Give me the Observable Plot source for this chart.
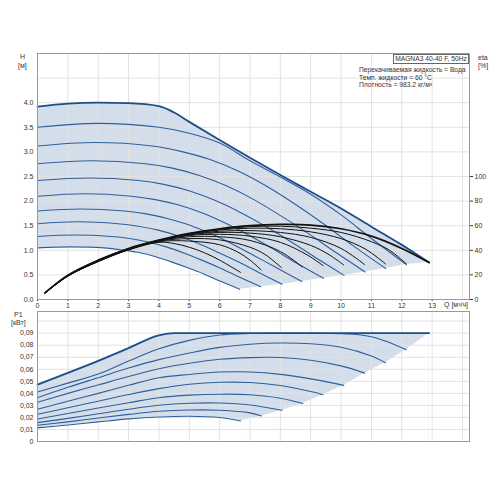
<!DOCTYPE html>
<html><head><meta charset="utf-8">
<script src="https://cdn.jsdelivr.net/npm/d3@7"></script>
<script src="https://cdn.jsdelivr.net/npm/@observablehq/plot@0.6"></script>
<style>
body{margin:0;background:#fff;font-family:"Liberation Sans",Arial,sans-serif;}
#wrap{position:relative;width:500px;height:500px;overflow:hidden;background:#fff;}
#chartTop,#chartBot{position:absolute;left:0;}
#chartTop{top:0;}#chartBot{top:308px;}
.lbl{position:absolute;font-size:7px;color:#333;line-height:8px;white-space:nowrap;z-index:5;}
.info{font-size:6.7px;}
#box{position:absolute;left:393px;top:54px;width:74px;height:8px;border:1px solid #666;font-size:6.7px;line-height:8px;text-align:center;color:#333;background:#fff;z-index:5;white-space:nowrap;}
</style></head><body>
<div id="wrap">
<div id="chartTop"></div><div id="chartBot"></div>
<div class="lbl" style="left:20px;top:53px">H</div>
<div class="lbl" style="left:18px;top:62px">[м]</div>
<div class="lbl" style="left:478px;top:54px">eta</div>
<div class="lbl" style="left:478px;top:62px">[%]</div>
<div id="box">MAGNA3 40-40 F, 50Hz</div>
<div class="lbl info" style="left:359px;top:66px">Перекачиваемая жидкость = Вода</div>
<div class="lbl info" style="left:359px;top:73.5px">Темп. жидкости = 60 °C</div>
<div class="lbl info" style="left:359px;top:81px">Плотность = 983.2 кг/м³</div>
<div class="lbl" style="left:444px;top:301px">Q [м³/ч]</div>
<div class="lbl" style="left:14px;top:311px">P1</div>
<div class="lbl" style="left:11px;top:319px">[кВт]</div>
</div>
<script>
// ---- tick values ----
const X_TICKS = [0,1,2,3,4,5,6,7,8,9,10,11,12,13];
const X_GRID = [0,1,2,3,4,5,6,7,8,9,10,11,12,13,14];
const H_TICKS = [0,0.5,1,1.5,2,2.5,3,3.5,4];
const H_GRID = [0.5,1,1.5,2,2.5,3,3.5,4,4.5,5];
const ETA_TICKS = [0,20,40,60,80,100];
const P_TICKS = [0,0.01,0.02,0.03,0.04,0.05,0.06,0.07,0.08,0.09];
const P_GRID = [0.01,0.02,0.03,0.04,0.05,0.06,0.07,0.08,0.09,0.10];

// ---- head curves: Q [m3/h] and H [m] (max curve first) ----
const HEAD_Q = [
 [0,1,2,3,4,4.5,5,6,7,8,9,10,11,12,12.9],
 [0,2,4,5,6,7,8,9,10,11,12.15],
 [0,1.89,3.78,4.72,5.66,6.61,7.55,8.50,9.44,10.38,11.47],
 [0,1.78,3.55,4.44,5.33,6.22,7.10,7.99,8.88,9.77,10.79],
 [0,1.66,3.32,4.16,4.99,5.82,6.65,7.48,8.31,9.14,10.10],
 [0,1.55,3.10,3.88,4.65,5.43,6.20,6.98,7.75,8.53,9.42],
 [0,1.43,2.87,3.59,4.30,5.02,5.74,6.45,7.17,7.89,8.71],
 [0,1.33,2.65,3.32,3.98,4.64,5.30,5.97,6.63,7.29,8.06],
 [0,1.21,2.42,3.03,3.63,4.24,4.84,5.45,6.05,6.66,7.35],
 [0,1.10,2.19,2.74,3.29,3.84,4.38,4.93,5.48,6.03,6.66]
];
const HEAD_H = [
 [3.92,3.98,4.00,3.99,3.93,3.80,3.61,3.24,2.88,2.53,2.19,1.85,1.48,1.11,0.75],
 [3.50,3.58,3.50,3.38,3.18,2.82,2.49,2.14,1.72,1.24,0.71],
 [3.12,3.19,3.12,3.01,2.85,2.61,2.30,1.93,1.53,1.10,0.63],
 [2.76,2.82,2.76,2.67,2.52,2.31,2.04,1.71,1.36,0.98,0.56],
 [2.42,2.47,2.42,2.34,2.21,2.02,1.78,1.50,1.19,0.86,0.49],
 [2.10,2.15,2.10,2.03,1.92,1.76,1.55,1.30,1.03,0.74,0.43],
 [1.80,1.84,1.80,1.74,1.64,1.51,1.33,1.12,0.88,0.64,0.365],
 [1.54,1.58,1.54,1.49,1.41,1.29,1.14,0.95,0.76,0.55,0.31],
 [1.28,1.31,1.28,1.24,1.17,1.07,0.94,0.79,0.63,0.45,0.26],
 [1.05,1.07,1.05,1.01,0.96,0.88,0.77,0.65,0.52,0.37,0.21]
];

// ---- efficiency curves: Q and eta [%] ----
const ETA_Q = [
 [0.25,1,2,3,4,5,6,7,8,9,10,11,12,12.9],
 [0.25,1,2,3,4,5,6,7,8,9,10,11,11.6,12.15],
 [0.25,1,2,3,4,5,6,7,8,9,10,10.8,11.46],
 [0.25,1,2,3,4,5,6,7,8,9,10,10.77],
 [0.25,1,2,3,4,5,6,7,8,9,9.6,10.09],
 [0.25,1,2,3,4,5,6,7,8,8.9,9.41],
 [0.25,1,2,3,4,5,6,7,8,8.72],
 [0.25,1,2,3,4,5,6,7,7.5,8.03],
 [0.25,1,2,3,4,5,6,6.6,7,7.37],
 [0.25,1,2,3,4,4.5,5,5.5,6,6.69]
];
const ETA_V = [
 [5.5,19.8,32.0,41.5,48.3,53.8,57.5,60.0,61.0,60.5,57.5,51.5,41.5,30],
 [5.5,19.7,31.9,41.4,48.2,53.5,57.0,59.2,59.6,58.0,54.5,47.0,40.0,29],
 [5.5,19.6,31.8,41.3,48.1,53.2,56.5,58.0,57.5,55.0,49.5,41.0,29],
 [5.4,19.5,31.6,41.1,48.0,52.9,55.5,56.0,54.5,50.5,41.5,28.5],
 [5.4,19.4,31.5,41.0,47.9,52.5,54.5,54.0,51.0,44.0,36.5,28],
 [5.4,19.3,31.4,40.9,47.8,52.0,53.0,51.5,46.5,36.0,27.5],
 [5.4,19.2,31.2,40.8,47.6,51.0,51.0,48.0,39.0,26.5],
 [5.3,19.1,31.0,40.6,47.4,49.5,48.5,42.5,36.5,26],
 [5.3,19.0,30.9,40.5,47.0,47.5,44.5,38.5,32.0,24],
 [5.3,19.0,30.8,40.3,46.5,45.5,42.5,38.0,32.0,22]
];

// ---- power curves: Q and P1 [kW] ----
const POW_Q = [
 [0,1,2,3,4,4.5,5,6,7,8,9,10,11,12,12.9],
 [0,1,2,3,4,5,6,7,8,9,10,10.5,11,11.5,12.15],
 [0,1,2,3,4,5,6,7,8,9,10,11,11.46],
 [0,1,2,3,4,5,6,7,8,9,10,10.78],
 [0,1,2,3,4,5,6,7,8,9,10.09],
 [0,1,2,3,4,5,6,7,8,9,9.41],
 [0,1,2,3,4,5,6,7,8,8.74],
 [0,1,2,3,4,5,6,7,8.06],
 [0,1,2,3,4,5,6,7,7.38],
 [0,1,2,3,4,5,6,6.69]
];
const POW_P = [
 [0.0472,0.0570,0.0670,0.0776,0.0882,0.0900,0.0900,0.0900,0.0900,0.0900,0.0900,0.0900,0.0900,0.0900,0.0900],
 [0.0411,0.0485,0.0560,0.0668,0.0770,0.0840,0.0885,0.0897,0.0899,0.0899,0.0896,0.0889,0.0870,0.0830,0.0762],
 [0.0364,0.0450,0.0530,0.0610,0.0680,0.0735,0.0782,0.0808,0.0818,0.0812,0.0783,0.0710,0.0654],
 [0.0326,0.0400,0.0470,0.0540,0.0605,0.0650,0.0683,0.0697,0.0698,0.0675,0.0628,0.0568],
 [0.0268,0.0335,0.0400,0.0467,0.0530,0.0557,0.0577,0.0578,0.0558,0.0520,0.0466],
 [0.0226,0.0280,0.0335,0.0390,0.0439,0.0475,0.0492,0.0490,0.0465,0.0415,0.0389],
 [0.0187,0.0232,0.0278,0.0322,0.0364,0.0385,0.0393,0.0389,0.0360,0.0315],
 [0.0157,0.0192,0.0230,0.0268,0.0301,0.0318,0.0320,0.0303,0.0259],
 [0.0135,0.0163,0.0195,0.0225,0.0251,0.0262,0.0260,0.0238,0.0212],
 [0.0113,0.0137,0.0163,0.0188,0.0204,0.0210,0.0200,0.0171]
];

// ---- build ----
const ETA_K = 2.5 / 100; // eta axis: 100 % aligned with 2.5 m
const FILL = "#d3deea", BLUE = "#2e5f9c", BLUE_D = "#1d4d8a", GRID = "#e2e2e2";
const STYLE = {fontFamily: '"Liberation Sans", Arial, sans-serif', fontSize: "7px", color: "#333", background: "transparent", overflow: "visible"};
const series = (qs, vs) => qs.map((q, i) => ({q, v: vs[i]}));
const head = HEAD_Q.map((qs, k) => series(qs, HEAD_H[k]));
const eta = ETA_Q.map((qs, k) => series(qs, ETA_V[k]));
const pow = POW_Q.map((qs, k) => series(qs, POW_P[k]));
const headEdge = head.map(s => s[s.length - 1]).reverse();
const powEdge = pow.map(s => s[s.length - 1]).reverse();
const XDOM = [0, 14.23];

const plotTop = Plot.plot({
  width: 500, height: 312, marginLeft: 37, marginRight: 31, marginTop: 53, marginBottom: 13,
  x: {domain: XDOM, axis: null}, y: {domain: [0, 5], axis: null}, style: STYLE,
  marks: [
    Plot.areaY(head[0], {x: "q", y: "v", fill: FILL, curve: "monotone-x"}),
    Plot.areaY(head[9], {x: "q", y: "v", fill: "white", curve: "catmull-rom"}),
    Plot.areaY(headEdge, {x: "q", y: "v", fill: "white"}),
    Plot.ruleX(X_GRID, {stroke: GRID}),
    Plot.ruleY(H_GRID, {stroke: GRID}),
    ...head.slice(1).map(s => Plot.line(s, {x: "q", y: "v", stroke: BLUE, strokeWidth: 1.1, curve: "catmull-rom"})),
    Plot.line(head[0], {x: "q", y: "v", stroke: BLUE_D, strokeWidth: 1.8, curve: "monotone-x"}),
    ...eta.map((s, k) => Plot.line(s, {x: "q", y: d => d.v * ETA_K, stroke: "#111", strokeWidth: k === 0 ? 1.7 : 1, curve: "catmull-rom"})),
    Plot.axisX(X_TICKS, {tickSize: 2, tickPadding: 1.5, label: null}),
    Plot.axisY(H_TICKS, {anchor: "left", tickSize: 0, tickPadding: 4, tickFormat: d => d.toFixed(1), label: null}),
    Plot.axisY(ETA_TICKS.map(e => e * ETA_K), {anchor: "right", tickSize: 3, tickPadding: 2, tickFormat: d => String(Math.round(d / ETA_K)), label: null}),
    Plot.frame({stroke: "#9a9a9a"})
  ]
});
document.getElementById("chartTop").append(plotTop);

const fmtP = d => d === 0 ? "0" : d.toFixed(2).replace(".", ",");
const plotBot = Plot.plot({
  width: 500, height: 147, marginLeft: 37, marginRight: 31, marginTop: 3, marginBottom: 14,
  x: {domain: XDOM, axis: null}, y: {domain: [0, 0.108], axis: null}, style: STYLE,
  marks: [
    Plot.areaY(pow[0], {x: "q", y: "v", fill: FILL, curve: "monotone-x"}),
    Plot.areaY(pow[9], {x: "q", y: "v", fill: "white", curve: "catmull-rom"}),
    Plot.areaY(powEdge, {x: "q", y: "v", fill: "white"}),
    Plot.ruleX(X_GRID, {stroke: GRID}),
    Plot.ruleY(P_GRID, {stroke: GRID}),
    ...pow.slice(1).map(s => Plot.line(s, {x: "q", y: "v", stroke: BLUE, strokeWidth: 1.1, curve: "catmull-rom"})),
    Plot.line(pow[0], {x: "q", y: "v", stroke: BLUE_D, strokeWidth: 1.8, curve: "monotone-x"}),
    Plot.axisY(P_TICKS, {anchor: "left", tickSize: 0, tickPadding: 4, tickFormat: fmtP, label: null}),
    Plot.frame({stroke: "#9a9a9a"})
  ]
});
document.getElementById("chartBot").append(plotBot);
</script>
</body></html>
